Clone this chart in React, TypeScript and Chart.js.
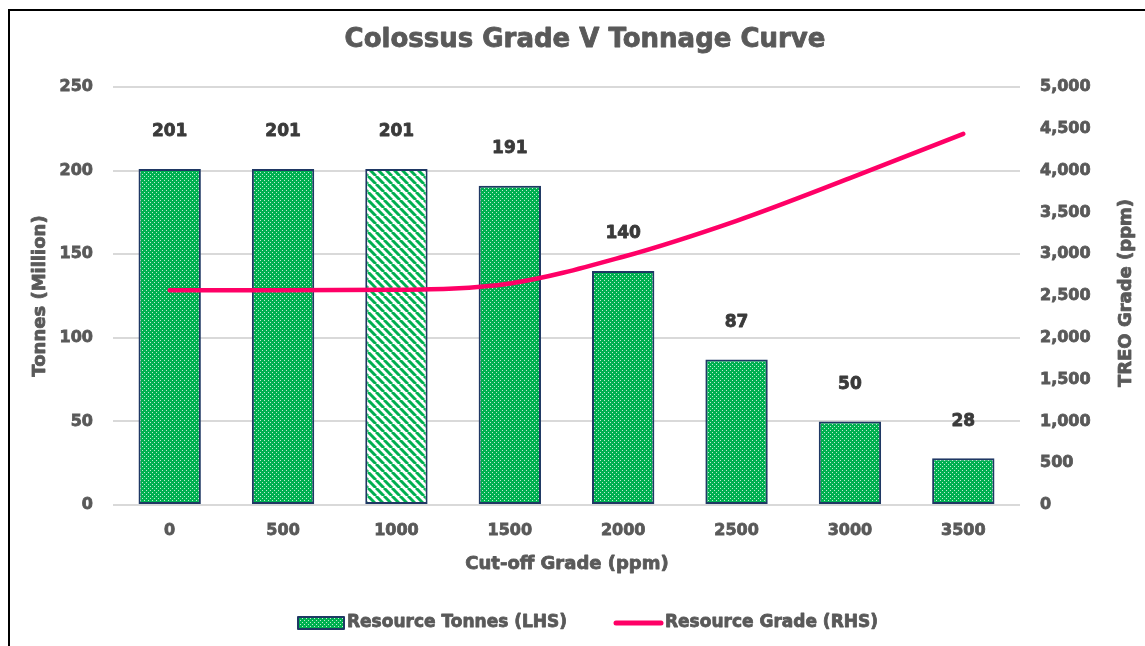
import React, { useEffect, useRef } from "react";
import { Chart, registerables } from "chart.js";

Chart.register(...registerables);

// ---------- data ----------
const categories = ["0", "500", "1000", "1500", "2000", "2500", "3000", "3500"];
const resourceTonnes = [201, 201, 201, 191, 140, 87, 50, 28];
const resourceGrade = [2570, 2570, 2575, 2650, 2970, 3400, 3910, 4440];
const leftTickMin = 0;
const leftTickMax = 250;
const leftTickStep = 50;
const rightTickMin = 0;
const rightTickMax = 5000;
const rightTickStep = 500;
const highlightedCategory = "1000";

const chartTitle = "Colossus Grade V Tonnage Curve";
const xAxisTitle = "Cut-off Grade (ppm)";
const leftAxisTitle = "Tonnes (Million)";
const rightAxisTitle = "TREO Grade (ppm)";
const seriesNames = ["Resource Tonnes (LHS)", "Resource Grade (RHS)"];

// ---------- styles ----------
const FONT = '"DejaVu Sans", sans-serif';
const GRAY = "#595959";
const LABEL = "#3a3a3a";
const GREEN = "#00B050";
const NAVY = "#1F3864";
const PINK = "#FF0066";
const STROKE = 0.8;

function makeDotPattern(ctx: CanvasRenderingContext2D) {
  const c = document.createElement("canvas");
  c.width = 4;
  c.height = 4;
  const g = c.getContext("2d")!;
  g.fillStyle = GREEN;
  g.fillRect(0, 0, 4, 4);
  g.fillStyle = "rgba(255,255,255,0.75)";
  g.fillRect(0, 0, 1, 1);
  g.fillRect(2, 2, 1, 1);
  return ctx.createPattern(c, "repeat")!;
}

function makeStripePattern(ctx: CanvasRenderingContext2D) {
  const s = 8;
  const c = document.createElement("canvas");
  c.width = s;
  c.height = s;
  const g = c.getContext("2d")!;
  g.fillStyle = "#ffffff";
  g.fillRect(0, 0, s, s);
  g.strokeStyle = GREEN;
  g.lineWidth = 3;
  for (const x0 of [-s, 0, s]) {
    g.beginPath();
    g.moveTo(x0, 0);
    g.lineTo(x0 + s, s);
    g.stroke();
  }
  return ctx.createPattern(c, "repeat")!;
}

function boldText(c: CanvasRenderingContext2D, text: string, x: number, y: number, color: string) {
  c.fillStyle = color;
  c.strokeStyle = color;
  c.lineWidth = STROKE;
  c.lineJoin = "round";
  c.strokeText(text, x, y);
  c.fillText(text, x, y);
}

export default function App() {
  const canvasRef = useRef<HTMLCanvasElement | null>(null);

  useEffect(() => {
    const canvas = canvasRef.current;
    if (!canvas) return;
    const ctx = canvas.getContext("2d")!;
    const dots = makeDotPattern(ctx);
    const stripes = makeStripePattern(ctx);

    const overlay = {
      id: "overlay",
      afterDatasetsDraw(chart: any) {
        const c = chart.ctx as CanvasRenderingContext2D;
        const meta = chart.getDatasetMeta(1);
        c.save();
        c.font = `bold 17px ${FONT}`;
        c.textAlign = "center";
        c.textBaseline = "middle";
        meta.data.forEach((el: any, i: number) => {
          boldText(c, String(resourceTonnes[i]), el.x, el.y - 37, LABEL);
        });
        c.restore();
      },
      afterDraw(chart: any) {
        const c = chart.ctx as CanvasRenderingContext2D;
        const area = chart.chartArea;
        c.save();
        c.textAlign = "center";
        c.textBaseline = "middle";
        // title
        c.font = `bold 26px ${FONT}`;
        boldText(c, chartTitle, 585, 40, GRAY);
        // axis titles
        c.font = `bold 18px ${FONT}`;
        boldText(c, xAxisTitle, 567, 564, GRAY);
        const midY = (area.top + area.bottom) / 2;
        c.save();
        c.translate(40, midY);
        c.rotate(-Math.PI / 2);
        boldText(c, leftAxisTitle, 0, 0, GRAY);
        c.restore();
        c.save();
        c.translate(1126, midY - 3);
        c.rotate(-Math.PI / 2);
        boldText(c, rightAxisTitle, 0, 0, GRAY);
        c.restore();
        // legend
        const ly = 623;
        c.fillStyle = dots;
        c.fillRect(298, ly - 6, 46, 12);
        c.strokeStyle = NAVY;
        c.lineWidth = 2;
        c.strokeRect(298, ly - 6, 46, 12);
        c.textAlign = "left";
        c.font = `bold 17px ${FONT}`;
        boldText(c, seriesNames[0], 347, ly, GRAY);
        c.strokeStyle = PINK;
        c.lineWidth = 5;
        c.lineCap = "round";
        c.beginPath();
        c.moveTo(616, ly);
        c.lineTo(661, ly);
        c.stroke();
        boldText(c, seriesNames[1], 665, ly, GRAY);
        c.restore();
      },
    };

    const barColors = categories.map((cat) => (cat === highlightedCategory ? stripes : dots));
    const tickFont = { family: FONT, weight: "bold", size: 16 };

    const chart = new Chart(canvas, {
      type: "bar",
      data: {
        labels: categories,
        datasets: [
          {
            type: "line",
            label: seriesNames[1],
            data: resourceGrade,
            yAxisID: "yRight",
            borderColor: PINK,
            backgroundColor: PINK,
            borderWidth: 4.5,
            borderCapStyle: "round",
            pointRadius: 0,
            cubicInterpolationMode: "monotone",
            order: 0,
          } as any,
          {
            type: "bar",
            label: seriesNames[0],
            data: resourceTonnes,
            yAxisID: "yLeft",
            backgroundColor: barColors as any,
            borderColor: NAVY,
            borderWidth: 2,
            borderSkipped: false,
            barPercentage: 0.55,
            categoryPercentage: 1,
            order: 1,
          } as any,
        ],
      },
      options: {
        responsive: false,
        animation: false,
        devicePixelRatio: 1,
        layout: { padding: { top: 87, left: 0, right: 0, bottom: 0 } },
        plugins: {
          legend: { display: false },
          title: { display: false },
          tooltip: { enabled: false },
        },
        scales: {
          x: {
            grid: { display: false, drawTicks: false },
            border: { display: false },
            ticks: {
              color: GRAY,
              font: tickFont,
              padding: 16,
              textStrokeColor: GRAY,
              textStrokeWidth: STROKE,
            },
            afterFit: (s: any) => {
              s.height = 141;
            },
          },
          yLeft: {
            type: "linear",
            position: "left",
            min: leftTickMin,
            max: leftTickMax,
            grid: { color: "#D9D9D9", lineWidth: 2, drawTicks: false },
            border: { display: false },
            ticks: {
              stepSize: leftTickStep,
              color: GRAY,
              font: tickFont,
              padding: 20,
              textStrokeColor: GRAY,
              textStrokeWidth: STROKE,
            },
            afterFit: (s: any) => {
              s.width = 113;
            },
          },
          yRight: {
            type: "linear",
            position: "right",
            min: rightTickMin,
            max: rightTickMax,
            grid: { display: false, drawTicks: false },
            border: { display: false },
            ticks: {
              stepSize: rightTickStep,
              color: GRAY,
              font: tickFont,
              padding: 20,
              textStrokeColor: GRAY,
              textStrokeWidth: STROKE,
              callback: (v: any) => Number(v).toLocaleString("en-US"),
            },
            afterFit: (s: any) => {
              s.width = 125;
            },
          },
        },
      } as any,
      plugins: [overlay],
    });

    return () => chart.destroy();
  }, []);

  return (
    <div
      style={{
        position: "fixed",
        left: 0,
        top: 0,
        width: 1145,
        height: 646,
        background: "#ffffff",
        overflow: "hidden",
      }}
    >
      <div
        style={{
          position: "absolute",
          left: 8,
          top: 9,
          width: 2,
          height: 637,
          background: "#000",
        }}
      />
      <div
        style={{
          position: "absolute",
          left: 8,
          top: 9,
          width: 1137,
          height: 2,
          background: "#000",
        }}
      />
      <canvas
        ref={canvasRef}
        width={1145}
        height={646}
        style={{ position: "absolute", left: 0, top: 0, width: 1145, height: 646 }}
      />
    </div>
  );
}
